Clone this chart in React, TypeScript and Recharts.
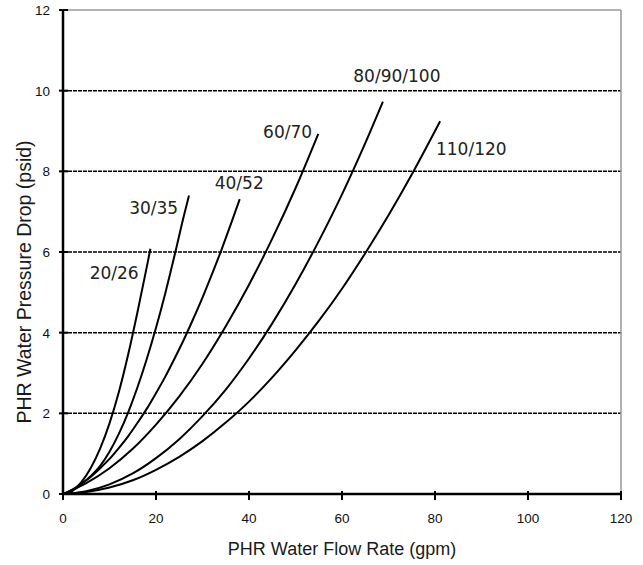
import React from "react";
import { LineChart, Line, XAxis, YAxis, ReferenceLine, ReferenceDot } from "recharts";

// Flow (gpm) vs pressure drop (psid) for each PHR size
const curve2026 = [
  { x: 0, y: 0 }, { x: 2, y: 0.08 }, { x: 4, y: 0.3 }, { x: 6, y: 0.65 }, { x: 8, y: 1.13 },
  { x: 10, y: 1.75 }, { x: 12, y: 2.52 }, { x: 14, y: 3.45 }, { x: 16, y: 4.5 }, { x: 18, y: 5.62 },
  { x: 18.8, y: 6.08 },
];
const curve3035 = [
  { x: 0, y: 0 }, { x: 2, y: 0.08 }, { x: 4, y: 0.25 }, { x: 6, y: 0.45 }, { x: 8, y: 0.7 },
  { x: 10, y: 1.05 }, { x: 12, y: 1.49 }, { x: 14, y: 2.02 }, { x: 16, y: 2.64 }, { x: 18, y: 3.34 },
  { x: 20, y: 4.12 }, { x: 22, y: 4.98 }, { x: 24, y: 5.92 }, { x: 26, y: 6.9 }, { x: 27.1, y: 7.4 },
];
const curve4052 = [
  { x: 0, y: 0 }, { x: 2, y: 0.11 }, { x: 4, y: 0.26 }, { x: 6, y: 0.43 }, { x: 8, y: 0.64 },
  { x: 10, y: 0.87 }, { x: 12, y: 1.14 }, { x: 14, y: 1.43 }, { x: 16, y: 1.76 }, { x: 18, y: 2.11 },
  { x: 20, y: 2.5 }, { x: 22, y: 2.91 }, { x: 24, y: 3.36 }, { x: 26, y: 3.83 }, { x: 28, y: 4.34 },
  { x: 30, y: 4.87 }, { x: 32, y: 5.44 }, { x: 34, y: 6.03 }, { x: 36, y: 6.66 }, { x: 38, y: 7.31 },
];
const curve6070 = [
  { x: 0, y: 0 }, { x: 5, y: 0.27 }, { x: 10, y: 0.64 }, { x: 15, y: 1.12 }, { x: 20, y: 1.72 },
  { x: 25, y: 2.42 }, { x: 30, y: 3.23 }, { x: 35, y: 4.16 }, { x: 40, y: 5.19 }, { x: 45, y: 6.33 },
  { x: 50, y: 7.58 }, { x: 54.9, y: 8.93 },
];
const curve8090100 = [
  { x: 0, y: 0 }, { x: 5, y: 0.07 }, { x: 10, y: 0.24 }, { x: 15, y: 0.51 }, { x: 20, y: 0.89 },
  { x: 25, y: 1.36 }, { x: 30, y: 1.93 }, { x: 35, y: 2.59 }, { x: 40, y: 3.36 }, { x: 45, y: 4.23 },
  { x: 50, y: 5.2 }, { x: 55, y: 6.27 }, { x: 60, y: 7.43 }, { x: 65, y: 8.7 }, { x: 68.8, y: 9.73 },
];
const curve110120 = [
  { x: 0, y: 0 }, { x: 5, y: 0.05 }, { x: 10, y: 0.16 }, { x: 15, y: 0.34 }, { x: 20, y: 0.6 },
  { x: 25, y: 0.92 }, { x: 30, y: 1.31 }, { x: 35, y: 1.77 }, { x: 40, y: 2.29 }, { x: 45, y: 2.89 },
  { x: 50, y: 3.56 }, { x: 55, y: 4.29 }, { x: 60, y: 5.09 }, { x: 65, y: 5.97 }, { x: 70, y: 6.91 },
  { x: 75, y: 7.92 }, { x: 81.1, y: 9.24 },
];

const seriesList = [
  { name: "20/26", data: curve2026 },
  { name: "30/35", data: curve3035 },
  { name: "40/52", data: curve4052 },
  { name: "60/70", data: curve6070 },
  { name: "80/90/100", data: curve8090100 },
  { name: "110/120", data: curve110120 },
];

// Curve label anchor positions (data coordinates)
const curveLabels = [
  { text: "20/26", x: 11.0, y: 5.33 },
  { text: "30/35", x: 19.5, y: 6.94 },
  { text: "40/52", x: 37.9, y: 7.56 },
  { text: "60/70", x: 48.3, y: 8.83 },
  { text: "80/90/100", x: 71.8, y: 10.22 },
  { text: "110/120", x: 87.8, y: 8.41 },
];

const xTicks = [0, 20, 40, 60, 80, 100, 120];
const yTicks = [0, 2, 4, 6, 8, 10, 12];
const gridValues = [2, 4, 6, 8, 10];

const xTitle = "PHR Water Flow Rate (gpm)";
const yTitle = "PHR Water Pressure Drop (psid)";

const tickFont = "'Liberation Sans', Arial, sans-serif";
const labelFont = "'DejaVu Sans', sans-serif";

const XTick = (props: any) => {
  const { x, y, payload } = props;
  return (
    <g>
      <line x1={x} x2={x} y1={y - 3} y2={y + 6} stroke="#000" strokeWidth={2} />
      <text x={x} y={y + 29} textAnchor="middle" fontSize={13.5} fontFamily={tickFont} fill="#111">
        {payload.value}
      </text>
    </g>
  );
};

const YTick = (props: any) => {
  const { x, y, payload } = props;
  return (
    <g>
      <line x1={x - 4} x2={x + 5} y1={y} y2={y} stroke="#000" strokeWidth={2} />
      <text x={x - 13} y={y + 5} textAnchor="end" fontSize={13.5} fontFamily={tickFont} fill="#111">
        {payload.value}
      </text>
    </g>
  );
};

export default function App() {
  return (
    <div style={{ width: 643, height: 565, background: "#fff" }}>
      <style>{`body{margin:0;}`}</style>
      <LineChart width={643} height={565} margin={{ top: 10, right: 22, bottom: 0, left: 0 }}>
        <XAxis
          type="number"
          dataKey="x"
          domain={[0, 120]}
          ticks={xTicks}
          tickSize={0}
          tickMargin={0}
          tickLine={false}
          tick={<XTick />}
          axisLine={{ stroke: "#000", strokeWidth: 2.5 }}
          height={71}
          allowDataOverflow
          label={{
            content: (p: any) => {
              const vb = p.viewBox;
              return (
                <text
                  x={vb.x + vb.width / 2}
                  y={vb.y + 61}
                  textAnchor="middle"
                  fontSize={18}
                  fontFamily={tickFont}
                  fill="#1a1a1a"
                >
                  {xTitle}
                </text>
              );
            },
          }}
        />
        <YAxis
          type="number"
          dataKey="y"
          domain={[0, 12]}
          ticks={yTicks}
          tickSize={0}
          tickMargin={0}
          tickLine={false}
          tick={<YTick />}
          axisLine={{ stroke: "#000", strokeWidth: 2.5 }}
          width={63}
          allowDataOverflow
          label={{
            content: (p: any) => {
              const vb = p.viewBox;
              const cx = 31;
              const cy = vb.y + vb.height / 2 + 30;
              return (
                <text
                  x={cx}
                  y={cy}
                  transform={`rotate(-90, ${cx}, ${cy})`}
                  textAnchor="middle"
                  fontSize={19.5}
                  fontFamily={tickFont}
                  fill="#1a1a1a"
                >
                  {yTitle}
                </text>
              );
            },
          }}
        />
        {gridValues.map((v) => (
          <ReferenceLine key={v} y={v} stroke="#000" strokeWidth={1.5} strokeDasharray="4 1" />
        ))}
        <ReferenceLine y={12} stroke="#999" strokeWidth={1.5} />
        <ReferenceLine x={120} stroke="#999" strokeWidth={1.5} />
        {seriesList.map((s) => (
          <Line
            key={s.name}
            data={s.data}
            dataKey="y"
            type="monotone"
            stroke="#000"
            strokeWidth={2}
            dot={false}
            isAnimationActive={false}
          />
        ))}
        {curveLabels.map((l) => (
          <ReferenceDot
            key={l.text}
            x={l.x}
            y={l.y}
            r={0}
            fill="none"
            stroke="none"
            ifOverflow="visible"
            label={(p: any) => {
              const vb = p.viewBox;
              return (
                <text x={vb.x} y={vb.y} textAnchor="middle" fontSize={17} fontFamily={labelFont} fill="#222">
                  {l.text}
                </text>
              );
            }}
          />
        ))}
      </LineChart>
    </div>
  );
}
